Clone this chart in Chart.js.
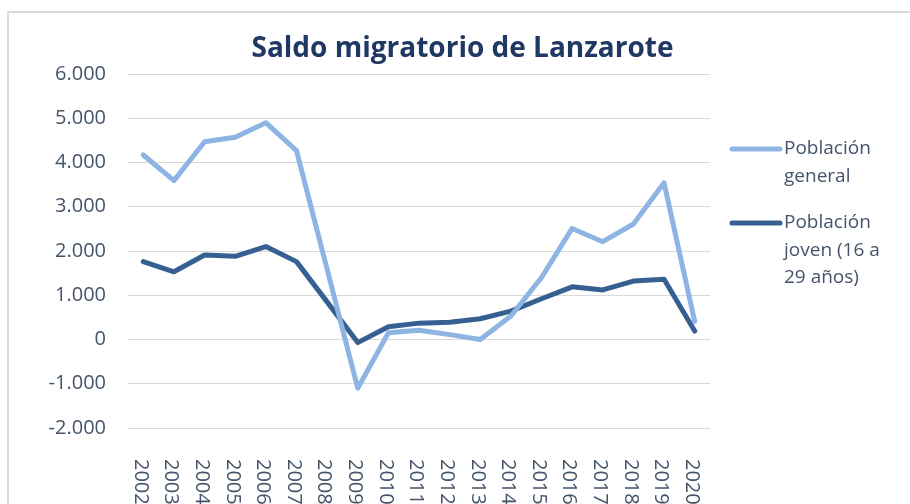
<!DOCTYPE html>
<html>
<head>
<meta charset="utf-8">
<script src="https://cdn.jsdelivr.net/npm/chart.js@4/dist/chart.umd.min.js"></script>
<style>
  html, body { margin: 0; padding: 0; background: #ffffff; }
  #wrap { position: relative; width: 910px; height: 504px; overflow: hidden; }
  #frame { position: absolute; left: 7px; top: 11px; width: 1000px; height: 600px;
           border-left: 2px solid #d9d9d9; border-top: 2px solid #d9d9d9; }
  canvas { position: absolute; left: 0; top: 0; }
</style>
</head>
<body>
<div id="wrap">
  <div id="frame"></div>
  <canvas id="c" width="910" height="504"></canvas>
</div>
<script>
// ---- data ----
const years = ["2002","2003","2004","2005","2006","2007","2008","2009","2010","2011",
               "2012","2013","2014","2015","2016","2017","2018","2019","2020"];
const poblacionGeneral = [4170, 3590, 4470, 4570, 4900, 4270, 1590, -1100, 150, 210,
                          110, 0, 530, 1400, 2510, 2210, 2610, 3540, 410];
const poblacionJoven = [1760, 1530, 1910, 1880, 2100, 1760, 850, -70, 290, 370,
                        390, 470, 640, 920, 1190, 1120, 1320, 1360, 190];
const seriesNames = ["Población general", "Población joven (16 a 29 años)"];
const legendLines = [["Población", "general"], ["Población", "joven (16 a", "29 años)"]];
const titleText = "Saldo migratorio de Lanzarote";
const yTicks = { min: -2000, max: 6000, step: 1000 };

const textColor = "#44546a";
const fontFamily = "'Open Sans', 'Liberation Sans', sans-serif";

function fmt(v) {
  const s = Math.abs(v).toString().replace(/\B(?=(\d{3})+(?!\d))/g, ".");
  return (v < 0 ? "-" : "") + s;
}

const xLabelPlugin = {
  id: "xLabelsRot",
  afterDraw(chart) {
    const ctx = chart.ctx;
    const xs = chart.scales.x;
    ctx.save();
    ctx.fillStyle = textColor;
    ctx.font = "20px " + fontFamily;
    ctx.textAlign = "left";
    ctx.textBaseline = "middle";
    xs.ticks.forEach((t, i) => {
      const x = xs.getPixelForTick(i);
      ctx.save();
      ctx.translate(x - 3, chart.chartArea.bottom + 31);
      ctx.rotate(Math.PI / 2);
      ctx.fillText(xs.getLabelForValue(t.value), 0, 0);
      ctx.restore();
    });
    ctx.restore();
  }
};

const legendPlugin = {
  id: "sideLegend",
  afterDraw(chart) {
    const ctx = chart.ctx;
    ctx.save();
    ctx.font = "19px " + fontFamily;
    ctx.textBaseline = "middle";
    ctx.textAlign = "left";
    const starts = [149, 223];
    chart.data.datasets.forEach((ds, i) => {
      const y0 = starts[i];
      ctx.strokeStyle = ds.borderColor;
      ctx.lineWidth = 5;
      ctx.lineCap = "round";
      ctx.beginPath();
      ctx.moveTo(732, y0);
      ctx.lineTo(780, y0);
      ctx.stroke();
      ctx.fillStyle = textColor;
      legendLines[i].forEach((ln, k) => ctx.fillText(ln, 784, y0 + k * 27.5));
    });
    ctx.restore();
  }
};

new Chart(document.getElementById("c"), {
  type: "line",
  data: {
    labels: years,
    datasets: [
      { label: seriesNames[0], data: poblacionGeneral, borderColor: "#8db4e2",
        backgroundColor: "#8db4e2", borderWidth: 5, pointRadius: 0, tension: 0,
        borderJoinStyle: "round", borderCapStyle: "round" },
      { label: seriesNames[1], data: poblacionJoven, borderColor: "#366092",
        backgroundColor: "#366092", borderWidth: 5, pointRadius: 0, tension: 0,
        borderJoinStyle: "round", borderCapStyle: "round" }
    ]
  },
  options: {
    responsive: false,
    devicePixelRatio: 1,
    animation: false,
    layout: { padding: { left: 15, right: 0, top: 0, bottom: 0 } },
    plugins: {
      legend: { display: false },
      tooltip: { enabled: false },
      title: {
        display: true,
        text: titleText,
        color: "#1f3864",
        font: { family: fontFamily, size: 28, weight: "bold", lineHeight: 1.2 },
        padding: { top: 32.5, bottom: 7.9 }
      }
    },
    scales: {
      x: {
        type: "category",
        offset: true,
        grid: { display: false, drawTicks: false },
        border: { display: false },
        ticks: { display: false },
        afterFit(scale) { scale.height = 76; }
      },
      y: {
        min: yTicks.min,
        max: yTicks.max,
        grid: { color: "#d9d9d9", lineWidth: 1, drawTicks: false },
        border: { display: false },
        ticks: {
          stepSize: yTicks.step,
          padding: 22,
          color: textColor,
          font: { family: fontFamily, size: 20 },
          callback: (v) => fmt(v)
        },
        afterFit(scale) { scale.width = 113; }
      },
      legendSpace: {
        type: "linear",
        position: "right",
        display: true,
        grid: { display: false, drawTicks: false },
        border: { display: false },
        ticks: { display: false },
        afterFit(scale) { scale.width = 200; }
      }
    }
  },
  plugins: [xLabelPlugin, legendPlugin]
});
</script>
</body>
</html>
